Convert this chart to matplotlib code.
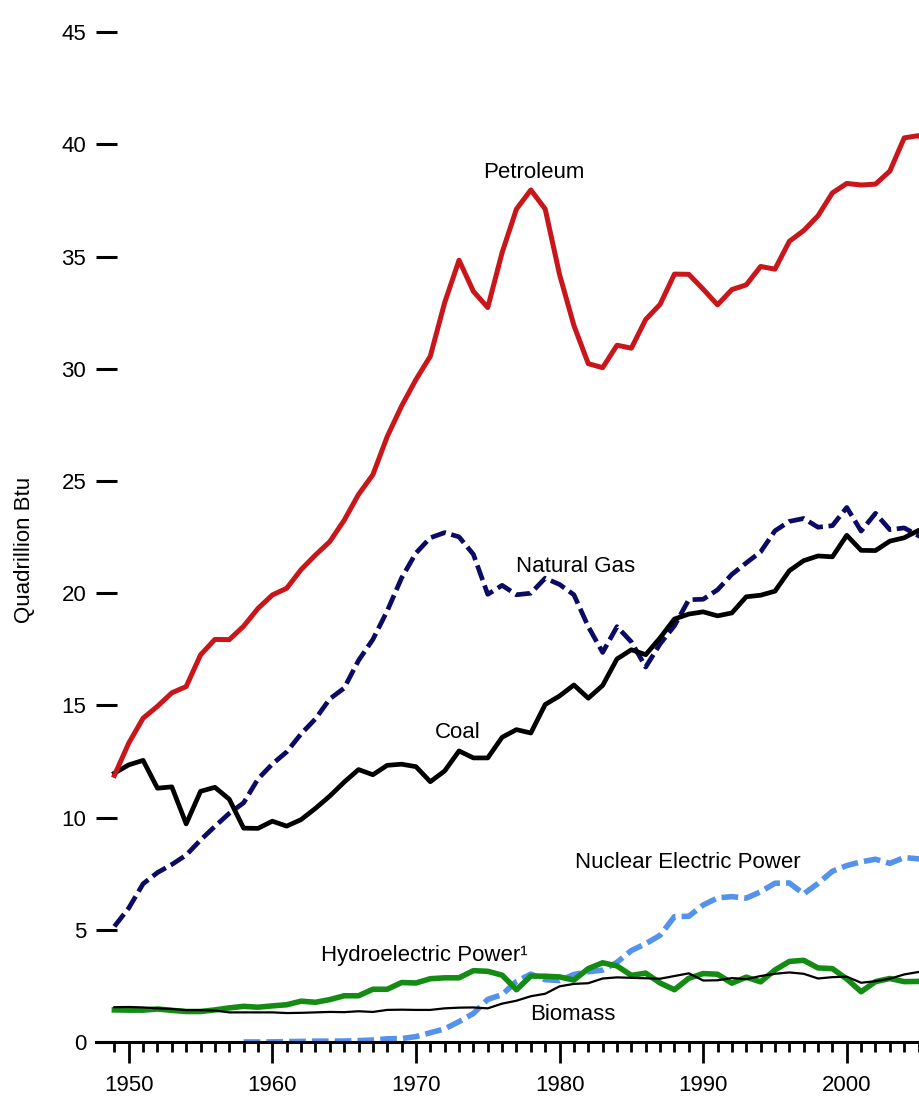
import numpy as np
import matplotlib
matplotlib.use("Agg")
import matplotlib.pyplot as plt

plt.rcParams['font.family'] = ['Liberation Sans', 'DejaVu Sans']

years = list(range(1949, 2008))

petroleum = [11.88, 13.32, 14.43, 14.96, 15.56, 15.84, 17.25, 17.94, 17.93, 18.53,
             19.32, 19.92, 20.22, 21.05, 21.70, 22.30, 23.25, 24.40, 25.28, 26.98,
             28.34, 29.52, 30.56, 32.95, 34.84, 33.45, 32.73, 35.18, 37.12, 37.97,
             37.12, 34.20, 31.93, 30.23, 30.05, 31.05, 30.92, 32.20, 32.87, 34.22,
             34.21, 33.55, 32.85, 33.53, 33.74, 34.56, 34.44, 35.68, 36.16, 36.82,
             37.84, 38.26, 38.19, 38.23, 38.81, 40.29, 40.39, 39.96, 39.77]

coal = [11.98, 12.35, 12.55, 11.31, 11.37, 9.72, 11.17, 11.35, 10.82, 9.53,
        9.52, 9.84, 9.62, 9.91, 10.41, 10.96, 11.58, 12.14, 11.91, 12.33,
        12.38, 12.27, 11.60, 12.08, 12.97, 12.66, 12.66, 13.58, 13.92, 13.77,
        15.04, 15.42, 15.91, 15.32, 15.89, 17.07, 17.48, 17.26, 18.01, 18.85,
        19.07, 19.17, 18.99, 19.12, 19.84, 19.91, 20.09, 21.00, 21.45, 21.66,
        21.62, 22.58, 21.91, 21.90, 22.32, 22.47, 22.80, 22.45, 22.75]

natural_gas = [5.15, 5.97, 7.05, 7.55, 7.91, 8.33, 9.00, 9.61, 10.19, 10.66,
               11.72, 12.39, 12.93, 13.73, 14.40, 15.29, 15.77, 17.00, 17.94, 19.21,
               20.68, 21.79, 22.47, 22.70, 22.51, 21.73, 19.95, 20.35, 19.93, 20.00,
               20.67, 20.39, 19.93, 18.51, 17.36, 18.51, 17.83, 16.71, 17.74, 18.55,
               19.71, 19.73, 20.15, 20.84, 21.35, 21.84, 22.78, 23.20, 23.33, 22.94,
               23.01, 23.82, 22.77, 23.56, 22.83, 22.91, 22.56, 22.22, 23.63]

nuclear_years = list(range(1958, 2008))
nuclear = [0.002, 0.002, 0.006, 0.02, 0.026, 0.038, 0.04, 0.043, 0.064,
           0.088, 0.142, 0.154, 0.239, 0.413, 0.584, 0.910, 1.272, 1.900, 2.111,
           2.702, 3.024, 2.776, 2.739, 3.008, 3.131, 3.203, 3.553, 4.076, 4.380,
           4.754, 5.587, 5.602, 6.104, 6.422, 6.479, 6.410, 6.694, 7.075, 7.087,
           6.597, 7.068, 7.610, 7.862, 8.029, 8.145, 7.959, 8.222, 8.161, 8.215,
           8.455]

hydro = [1.43, 1.42, 1.42, 1.47, 1.41, 1.36, 1.36, 1.43, 1.52, 1.59,
         1.55, 1.61, 1.66, 1.82, 1.77, 1.89, 2.06, 2.06, 2.35, 2.35,
         2.65, 2.63, 2.82, 2.86, 2.86, 3.18, 3.15, 2.98, 2.33, 2.94,
         2.93, 2.90, 2.76, 3.27, 3.53, 3.39, 2.97, 3.07, 2.63, 2.33,
         2.84, 3.05, 3.02, 2.62, 2.89, 2.68, 3.21, 3.59, 3.64, 3.30,
         3.27, 2.81, 2.24, 2.69, 2.83, 2.69, 2.70, 2.87, 2.45]

biomass = [1.55, 1.56, 1.54, 1.50, 1.47, 1.42, 1.42, 1.40, 1.32, 1.32,
           1.32, 1.32, 1.29, 1.30, 1.32, 1.34, 1.33, 1.37, 1.34, 1.43,
           1.44, 1.43, 1.43, 1.50, 1.53, 1.54, 1.50, 1.71, 1.84, 2.04,
           2.15, 2.48, 2.59, 2.62, 2.83, 2.88, 2.86, 2.84, 2.82, 2.94,
           3.06, 2.74, 2.75, 2.85, 2.80, 2.94, 3.04, 3.10, 3.04, 2.83,
           2.89, 2.91, 2.64, 2.71, 2.82, 3.01, 3.12, 3.22, 3.61]

y_ticks = [0, 5, 10, 15, 20, 25, 30, 35, 40, 45]
x_major = [1950, 1960, 1970, 1980, 1990, 2000]

fig = plt.figure(figsize=(9.2, 10.96), dpi=100)
ax = fig.add_axes([96/920, 54/1096, 1 - 96/920, 1 - 54/1096])

ax.plot(nuclear_years, nuclear, color='#5592EB', lw=4.0, dashes=(3.0, 1.1), zorder=2)
ax.plot(years, hydro, color='#148C14', lw=4.0, zorder=3)
ax.plot(years, biomass, color='black', lw=1.6, zorder=4)
ax.plot(years, natural_gas, color='#0B0B64', lw=3.4, dashes=(3.3, 1.2), zorder=5)
ax.plot(years, coal, color='black', lw=3.4, zorder=6)
ax.plot(years, petroleum, color='#C8161A', lw=3.6, zorder=7)

def d(px, py):
    return 1950 + (px - 128.8) / 14.36, (1042 - py) / 22.44

labels = [("Petroleum", 534, 173), ("Natural Gas", 576, 566), ("Coal", 458, 733),
          ("Nuclear Electric Power", 688, 863), ("Hydroelectric Power\u00b9", 424, 956),
          ("Biomass", 573, 1014)]
for txt, px, py in labels:
    x, y = d(px, py)
    ax.text(x, y, txt, fontsize=16, ha='center', va='center', zorder=10)

for s in ['top', 'right', 'left']:
    ax.spines[s].set_visible(False)
ax.spines['bottom'].set_linewidth(2.2)

ax.set_yticks(y_ticks)
ax.set_yticklabels([str(v) for v in y_ticks])
ax.tick_params(axis='y', direction='in', length=15, width=2.2, pad=7, labelsize=16)

ax.set_xticks(x_major)
ax.set_xticklabels([str(v) for v in x_major])
ax.set_xticks(years, minor=True)
ax.tick_params(axis='x', which='major', direction='out', length=15, width=2.0, pad=9, labelsize=16)
ax.tick_params(axis='x', which='minor', direction='out', length=7.5, width=2.0)

ax.set_xlim(1947.72, 2005.1)
ax.set_ylim(0, 1042 / 22.44)

fig.text(25/920, 1 - 550/1096, "Quadrillion Btu", rotation=90, fontsize=16,
         ha='center', va='center')

fig.savefig("out.png", dpi=100)
